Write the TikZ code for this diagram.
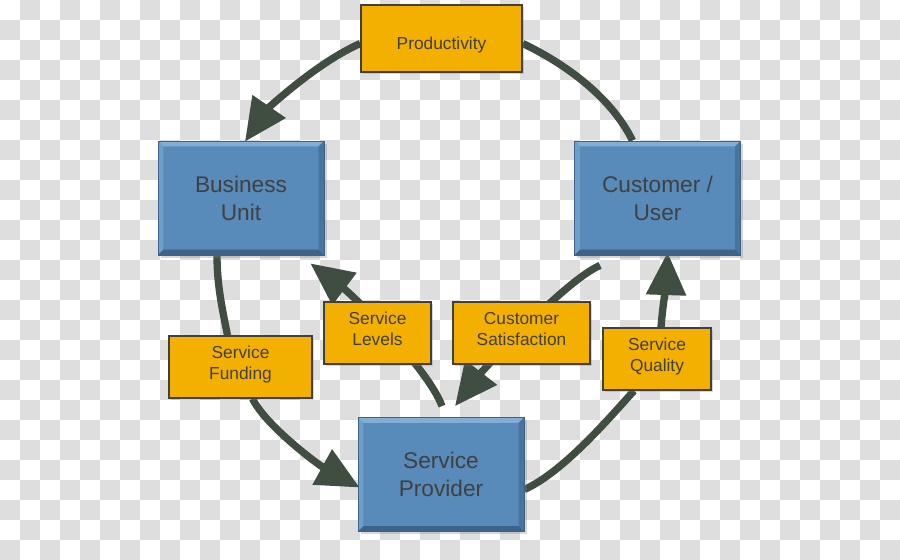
\documentclass[tikz,border=0pt]{standalone}
\usepackage{fontspec}
\setmainfont{Liberation Sans}
\usepackage{tikz}
\usepackage{xcolor}
\usetikzlibrary{arrows.meta,backgrounds,shadows}

\definecolor{unitblue}{RGB}{88,139,185}
\definecolor{unitlight}{RGB}{130,174,214}
\definecolor{unitdark}{RGB}{60,99,138}
\definecolor{tagorange}{RGB}{244,176,0}
\definecolor{flowgray}{RGB}{64,78,66}
\definecolor{textgray}{RGB}{64,64,64}
\definecolor{tilegray}{RGB}{222,222,222}

\pgfdeclarelayer{backdrop}
\pgfsetlayers{backdrop,background,main}

% struts that seat the label text where it sits in the boxes
\newcommand\tagstrut{\rule[-6pt]{0pt}{6pt}}
\newcommand\topstrut{\rule{0pt}{19.5pt}}

\begin{document}
\begin{tikzpicture}[x=0.75pt,y=-0.75pt,>={Triangle[length=32pt,width=29pt]},
  flow/.style={draw=flowgray,line width=5.5pt},
  bevel/.style={path picture={
    \path (path picture bounding box.north west) coordinate (bnw)
          (path picture bounding box.north east) coordinate (bne)
          (path picture bounding box.south east) coordinate (bse)
          (path picture bounding box.south west) coordinate (bsw);
    \fill[unitlight] (bnw) -- (bne) -- ([shift={(-4pt,-4pt)}]bne) -- ([shift={(4pt,-4pt)}]bnw) -- cycle;
    \fill[unitlight!55!unitblue] (bnw) -- ([shift={(4pt,-4pt)}]bnw) -- ([shift={(4pt,4pt)}]bsw) -- (bsw) -- cycle;
    \fill[unitdark] (bsw) -- (bse) -- ([shift={(-4pt,4pt)}]bse) -- ([shift={(4pt,4pt)}]bsw) -- cycle;
    \fill[unitdark!60!unitblue] (bse) -- (bne) -- ([shift={(-4pt,-4pt)}]bne) -- ([shift={(-4pt,4pt)}]bse) -- cycle;
  }},
  party/.style={fill=unitblue,draw=unitdark,line width=0.6pt,bevel,text=textgray,
    align=center,inner sep=0pt,minimum width=124.5pt,minimum height=85.5pt,
    font=\fontsize{17}{21}\selectfont,
    drop shadow={shadow xshift=2pt,shadow yshift=-2pt,opacity=0.3}},
  tag/.style={fill=tagorange,draw=textgray,line width=1.1pt,text=textgray,
    align=center,inner sep=0pt,minimum height=46.5pt,
    font=\fontsize{13}{15.75}\selectfont,
    drop shadow={shadow xshift=1.5pt,shadow yshift=-1.5pt,opacity=0.3}}]
  \useasboundingbox (0,0) rectangle (900,560);

  % checkered backdrop
  \begin{pgfonlayer}{backdrop}
    \path[fill=white] (0,0) rectangle (900,560);
    \foreach \row in {0,2,...,26}{
      \foreach \col in {20,60,...,860}
        \path[fill=tilegray] ({\col},{20*\row}) rectangle +(20,20);
      \foreach \col in {0,40,...,880}
        \path[fill=tilegray] ({\col},{20*\row+20}) rectangle +(20,20);
    }
  \end{pgfonlayer}

  % blue parties
  \node[party] (BU) at (241,198) {Business\\Unit};
  \node[party] (CU) at (657.5,198) {Customer /\\User};
  \node[party] (SP) at (441,474.5) {Service\\Provider};

  % orange flow labels
  \node[tag,minimum width=120.75pt,minimum height=50.25pt] (Prod) at (441.5,38.5) {\topstrut Productivity};
  \node[tag,minimum width=107.25pt] (SF) at (240.5,367) {Service\\Funding\tagstrut};
  \node[tag,minimum width=80.25pt] (SL) at (377.5,333) {Service\\Levels\tagstrut};
  \node[tag,minimum width=102.75pt] (CS) at (521.5,333) {Customer\\Satisfaction\tagstrut};
  \node[tag,minimum width=81pt] (SQ) at (657,359) {Service\\Quality\tagstrut};

  \begin{scope}[on background layer]
    % outer ring
    \draw[flow] ([shift={(-25,0)}]CU.north) .. controls +(-22,-45) and +(40,19) .. ([shift={(0,5)}]Prod.east);
    \draw[flow,->] ([shift={(0,5)}]Prod.west) .. controls +(-45,20) and +(22,-32) .. ([shift={(4,1)}]BU.north);
    \draw[flow] ([shift={(-24,0)}]BU.south) .. controls +(0,30) and +(-5,-25) .. ([shift={(-13,0)}]SF.north);
    \draw[flow,->] ([shift={(12,0)}]SF.south) .. controls +(14,28) and +(-40,-22) .. ([shift={(2,13)}]SP.west);
    \draw[flow] ([shift={(0,15)}]SP.east) .. controls +(40,-18) and +(-22,24) .. ([shift={(-23,0)}]SQ.south);
    \draw[flow,->] ([shift={(4,0)}]SQ.north) .. controls +(2,-25) and +(-1,30) .. ([shift={(10,-3)}]CU.south);

    % inner exchange
    \draw[flow,->] ([shift={(1,-11)}]SP.north) .. controls +(-15,-40) and +(40,30) .. ([shift={(-14,8)}]BU.south east);
    \draw[flow,->] ([shift={(26,10)}]CU.south west) .. controls +(-35,15) and +(28,-36) .. ([shift={(14,-11)}]SP.north);
  \end{scope}
\end{tikzpicture}
\end{document}
